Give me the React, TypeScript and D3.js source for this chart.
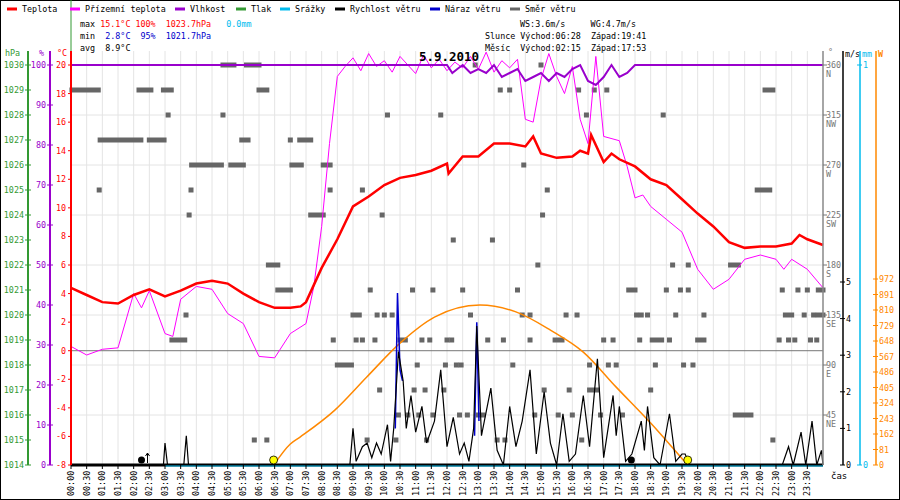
import React from "react";
import * as d3 from "d3";

const tempH = [0,0.5,1,1.5,2,2.5,3,3.5,4,4.5,5,5.5,6,6.5,7,7.33,7.5,8,8.5,9,9.5,10,10.5,11,11.5,12,12.05,12.5,13,13.5,14,14.5,14.75,15,15.5,16,16.25,16.5,16.6,17,17.25,17.5,18,18.5,19,19.5,20,20.5,21,21.5,22,22.5,23,23.25,23.5,24];
const tempV = [4.4,3.9,3.4,3.3,3.9,4.3,3.8,4.2,4.7,4.9,4.7,4.0,3.4,3.0,3.0,3.1,3.4,5.8,7.8,10.1,10.8,11.6,12.1,12.3,12.6,13.1,12.4,13.6,13.6,14.5,14.5,14.3,15.0,13.8,13.5,13.6,14.0,13.8,15.1,13.2,13.8,13.4,12.9,12.0,11.6,10.6,9.6,8.7,7.6,7.2,7.3,7.3,7.5,8.1,7.8,7.4];

const groundH = [0,0.5,1,1.5,2,2.25,2.5,3,3.25,3.5,4,4.5,5,5.5,6,6.5,7,7.5,7.75,8,8.25,8.5,8.75,9,9.25,9.5,9.75,10,10.25,10.5,10.75,11,11.25,11.5,11.75,12,12.25,12.5,12.75,13,13.25,13.5,13.75,14,14.25,14.5,14.75,15,15.25,15.5,15.75,16,16.25,16.5,16.75,17,17.5,17.75,18,18.25,18.5,19,19.5,20,20.5,21,21.5,22,22.5,22.75,23,23.5,24];
const groundV = [0.3,-0.3,0.1,0.2,4.0,3.0,4.2,1.2,1.0,3.6,4.5,4.3,2.6,1.9,-0.4,-0.5,1.2,1.9,4.5,8.7,14.5,19.2,19.9,20.5,19.6,20.8,19.9,20.3,19.5,20.6,20.0,19.4,20.7,19.8,20.4,19.6,20.2,19.8,20.6,19.7,20.9,19.5,20.3,19.8,20.4,16.2,16.0,19.0,20.8,19.2,18.0,19.9,16.2,14.5,20.6,15.0,14.7,12.9,10.7,10.9,10.1,9.2,8.3,5.7,4.3,5.0,6.4,6.7,6.4,5.7,6.4,5.7,4.4];

const humH = [0,12,12.17,12.33,12.5,12.75,13,13.25,13.5,13.75,14,14.25,14.5,14.75,15,15.25,15.5,15.75,16,16.25,16.5,16.75,17,17.25,17.5,17.75,18,24];
const humV = [100,100,98,99,100,98,99,98,100,97,98,99,96,97,98,96,98,97,99,100,96,95,97,100,97,98,100,100];

const windH = [0,2.95,3.0,3.08,3.6,3.68,3.75,8.9,9.0,9.1,9.3,9.45,9.6,9.75,9.9,10.1,10.2,10.3,10.45,10.6,10.7,10.85,11.0,11.2,11.35,11.6,11.8,12.0,12.2,12.4,12.55,12.7,12.85,12.95,13.1,13.4,13.6,13.8,14.0,14.2,14.4,14.65,14.85,15.1,15.3,15.5,15.7,15.9,16.1,16.35,16.55,16.8,17.0,17.3,17.4,17.5,17.7,17.9,18.2,18.3,18.4,18.6,18.8,19.1,19.3,19.5,19.6,19.75,22.7,22.9,23.05,23.3,23.45,23.65,23.8,23.95,24];
const windV = [0,0,0.6,0,0,0.8,0,0,1.0,0.1,0.5,0.6,0.2,0.6,0.3,1.1,0.1,1.0,3.1,2.3,1.0,1.9,0.9,1.6,0.6,1.2,2.6,0.5,1.3,0.3,0.6,0.1,1.0,3.8,0.8,2.1,0.4,0.0,1.6,0.5,1.2,2.6,0.3,2.0,0.6,0.0,1.4,0.1,0.3,1.9,0.5,2.9,0.2,1.9,0.8,1.6,0.1,0.3,1.2,0.4,1.6,0.2,0.0,1.4,0.1,0.3,0.3,0,0,0.5,0,0.9,0,1.2,0,0.4,0];

const gustH = [10.35,10.42,10.5,10.58, 12.88,12.95,13.02];
const gustV = [1.0,4.7,2.6,2.3, 0.8,3.9,1.2];
const gustSeg = [0,0,0,0,1,1,1];

const sunH = [6.47,7.0,7.31,8.42,9.44,10.5,11.6,13.05,14.2,15.3,16.35,17.4,18.5,19.54,19.68];
const sunW = [0,110,146,287,460,637,773,836,800,705,590,407,219,26,0];

const dirStart = [4.85,5.6,0.03,2.17,2.95,6.0,3.1,4.85,10.1,11.8,0.93,2.5,5.45,7.0,7.3,3.85,5.1,7.05,8.05,0.9,3.83,8.27,9.3,3.77,7.65,9.93,6.3,6.6,9.55,10.9,11.55,3.67,9.0,9.77,10.0,10.25,3.22,8.37,9.1,9.3,9.7,10.5,11.2,11.45,12.0,
13.7,14.0,16.2,16.7,17.1,22.15,12.9,15.0,16.45,18.9,14.45,15.2,21.9,15.05,12.2,13.45,14.9,19.2,19.7,21.05,12.5,14.25,17.8,19.0,19.45,19.7,22.7,23.2,23.5,23.85,12.75,14.4,14.65,15.8,16.15,18.05,18.2,18.4,19.3,20.2,22.8,23.4,23.7,23.85,12.15,13.3,13.8,14.65,15.45,17.0,17.3,18.15,18.55,19.1,20.0,22.6,22.9,23.1,23.6,23.8,
8.5,11.05,11.95,12.3,12.45,14.1,16.55,17.15,17.4,18.65,19.55,19.85,9.85,10.95,11.3,11.9,15.1,15.9,16.55,18.5,10.45,10.75,11.1,11.55,12.4,12.65,13.0,13.15,14.8,15.55,16.0,16.9,17.6,21.2,9.45,10.37,11.35,13.6,13.85,16.3,22.4,5.85,6.25];
const dirEnd = [5.2,6.0,0.87,2.55,3.2,6.25,3.1,4.85,10.1,11.8,2.23,2.97,5.65,7.0,7.65,4.8,5.5,7.35,8.27,0.9,3.83,8.27,9.3,3.77,8.05,9.93,6.6,7.0,9.55,10.9,11.55,3.67,9.2,9.77,10.0,10.25,3.63,8.37,9.1,9.3,9.7,10.67,11.2,11.45,12.0,
13.7,14.0,16.2,16.7,17.1,22.4,12.9,15.0,16.45,18.9,14.45,15.2,22.3,15.05,12.2,13.45,14.9,19.2,19.7,21.3,12.5,14.25,18.0,19.0,19.45,19.7,22.7,23.2,23.5,24.0,12.75,14.4,14.65,15.8,16.15,18.05,18.2,18.4,19.3,20.2,23.0,23.4,23.7,24.0,12.15,13.3,13.8,14.65,15.67,17.0,17.3,18.15,18.85,19.1,20.2,22.6,22.9,23.1,23.6,23.8,
8.95,11.05,11.95,12.3,12.45,14.1,16.55,17.15,17.4,18.65,19.55,19.85,9.85,10.95,11.3,11.9,15.1,15.9,16.8,18.5,10.45,10.75,11.1,11.55,12.4,12.65,13.0,13.15,14.8,15.55,16.0,16.9,17.6,21.7,9.45,10.37,11.35,13.6,13.85,16.3,22.4,5.85,6.25];
const dirDeg = [360,360,337.5,337.5,337.5,337.5,315,315,315,315,292.5,292.5,292.5,292.5,292.5,270,270,270,270,247.5,247.5,247.5,247.5,225,225,225,180,157.5,157.5,157.5,157.5,135,135,135,135,135,112.5,112.5,112.5,112.5,112.5,112.5,112.5,112.5,112.5,
337.5,337.5,337.5,337.5,337.5,337.5,360,360,315,315,270,247.5,247.5,225,202.5,202.5,180,180,180,180,157.5,157.5,157.5,157.5,157.5,157.5,157.5,157.5,157.5,157.5,135,135,135,135,135,135,135,135,135,135,135,135,135,135,112.5,112.5,112.5,112.5,112.5,112.5,112.5,112.5,112.5,112.5,112.5,112.5,112.5,112.5,112.5,112.5,
90,90,90,90,90,90,90,90,90,90,90,90,67.5,67.5,67.5,67.5,67.5,67.5,67.5,67.5,45,45,45,45,45,45,45,45,45,45,45,45,45,45,22.5,22.5,22.5,22.5,22.5,22.5,22.5,22.5,22.5];

const legendItems = [
  ["Teplota", "#ff0000"], ["Přízemní teplota", "#ff00ff"], ["Vlhkost", "#9900cc"], ["Tlak", "#339933"],
  ["Srážky", "#00bbee"], ["Rychlost větru", "#000000"], ["Náraz větru", "#0000cc"], ["Směr větru", "#666666"],
];
const legendX = [7, 70, 175, 236, 280, 335, 430, 510];
const dirLabels = ["", "NE", "E", "SE", "S", "SW", "W", "NW", "N"];
const wTicks = [0,81,162,243,324,405,486,567,648,729,810,891,972];

const L = 71, R = 823, T = 65, B = 465;
const font = "DejaVu Sans Mono, monospace";
const FS = 8.4;
const pre = { whiteSpace: "pre" as const };

export default function App() {
  const x = d3.scaleLinear().domain([0, 24]).range([L, R]);
  const yT = d3.scaleLinear().domain([-8, 20]).range([B, T]);
  const yP = d3.scaleLinear().domain([1014, 1030]).range([B, T]);
  const yH = d3.scaleLinear().domain([0, 100]).range([B, T]);
  const yD = d3.scaleLinear().domain([0, 360]).range([B, T]);
  const yWs = d3.scaleLinear().domain([0, 1]).range([B, B - 36.6]);
  const yW = d3.scaleLinear().domain([0, 972]).range([B, B - 186]);
  const yMm = d3.scaleLinear().domain([0, 1]).range([B, T]);

  const lineOf = (hs: number[], vs: number[], ys: (v: number) => number) =>
    d3.line<number>().x((_, i) => x(hs[i])).y((v) => ys(v))(vs) || "";

  const halfHours = d3.range(0, 48);
  const gustPaths = [0, 1].map((s) => {
    const idx = gustH.map((_, i) => i).filter((i) => gustSeg[i] === s);
    return d3.line<number>().x((i) => x(gustH[i])).y((i) => yWs(gustV[i]))(idx) || "";
  });
  const fmt = (h: number) => `${String(Math.floor(h / 2)).padStart(2, "0")}:${h % 2 ? "30" : "00"}`;

  return (
    <svg width={900} height={500} style={{ position: "absolute", left: 0, top: 0, background: "#fff" }} fontFamily={font} fontSize={FS}>
      <rect x={0.5} y={0.5} width={899} height={499} fill="#fff" stroke="#000" />
      {halfHours.map((h) => (
        <line key={"v" + h} x1={x(h / 2)} x2={x(h / 2)} y1={T - 14} y2={B} stroke="#e4e4e4" />
      ))}
      {d3.range(45, 360, 45).map((d) => (
        <line key={"h" + d} x1={L} x2={R} y1={yD(d)} y2={yD(d)} stroke="#e4e4e4" />
      ))}
      <line x1={L} x2={R} y1={yT(0)} y2={yT(0)} stroke="#777" />
      {dirDeg.map((d, i) => (
        <rect key={"d" + i} x={x(dirStart[i]) - 2.5} y={yD(d) - 2.5} width={x(dirEnd[i]) - x(dirStart[i]) + 5} height={5} fill="#666" />
      ))}
      <path d={d3.line<number>().x((_, i) => x(sunH[i])).y((v) => yW(v)).curve(d3.curveMonotoneX)(sunW) || ""} fill="none" stroke="#ff8800" strokeWidth={1.5} />
      {gustPaths.map((p, i) => <path key={"g" + i} d={p} fill="none" stroke="#0000cc" strokeWidth={1.5} />)}
      <path d={lineOf(windH, windV, yWs)} fill="none" stroke="#000" strokeWidth={1.2} />
      <path d={lineOf(groundH, groundV, yT)} fill="none" stroke="#ff00ff" strokeWidth={1} />
      <path d={lineOf(tempH, tempV, yT)} fill="none" stroke="#ff0000" strokeWidth={2.5} />
      <path d={lineOf(humH, humV, yH)} fill="none" stroke="#9900cc" strokeWidth={2} />
      <line x1={L} x2={R} y1={B} y2={B} stroke="#000" strokeWidth={3} />
      <line x1={x(3)} x2={R} y1={B + 1} y2={B + 1} stroke="#00bbee" strokeWidth={1} />
      <circle cx={x(6 + 28 / 60)} cy={B - 5} r={4} fill="#ffff00" stroke="#000" strokeWidth={0.8} />
      <circle cx={x(19 + 41 / 60)} cy={B - 5} r={4} fill="#ffff00" stroke="#000" strokeWidth={0.8} />
      <circle cx={x(2.25)} cy={B - 5} r={3.5} fill="#000" />
      <path d={`M${x(2.25) + 6},${B - 2} V${B - 12} M${x(2.25) + 4},${B - 9} L${x(2.25) + 6},${B - 12} L${x(2.25) + 8},${B - 9}`} stroke="#000" fill="none" />
      <circle cx={x(17 + 53 / 60)} cy={B - 5} r={3.5} fill="#000" />
      <line x1={28} x2={28} y1={T - 14} y2={B} stroke="#339933" strokeWidth={2} />
      {d3.range(1014, 1031).map((p) => (
        <g key={"p" + p} fill="#339933">
          <line x1={25} x2={31} y1={yP(p)} y2={yP(p)} stroke="#339933" />
          <text x={24} y={yP(p) + 3} textAnchor="end">{p}</text>
        </g>
      ))}
      <line x1={50} x2={50} y1={T - 14} y2={B} stroke="#9900cc" strokeWidth={2} />
      {d3.range(0, 101, 10).map((h) => (
        <g key={"hu" + h} fill="#9900cc">
          <line x1={47} x2={53} y1={yH(h)} y2={yH(h)} stroke="#9900cc" />
          <text x={46} y={yH(h) + 3} textAnchor="end">{h}</text>
        </g>
      ))}
      <line x1={L} x2={L} y1={0} y2={B} stroke="#339933" />
      <line x1={L} x2={L} y1={T - 14} y2={B} stroke="#ff0000" strokeWidth={2} />
      {d3.range(-8, 21, 2).map((t) => (
        <g key={"t" + t} fill="#ff0000">
          <line x1={L - 3} x2={L} y1={yT(t)} y2={yT(t)} stroke="#ff0000" />
          <text x={L - 5} y={yT(t) + 3} textAnchor="end">{t}</text>
        </g>
      ))}
      <text x={5} y={56} fill="#339933">hPa</text>
      <text x={39} y={56} fill="#9900cc">%</text>
      <text x={57} y={56} fill="#ff0000">°C</text>
      <line x1={R} x2={R} y1={T - 14} y2={B} stroke="#888" strokeWidth={1.5} />
      {d3.range(45, 361, 45).map((d, i) => (
        <g key={"da" + d} fill="#777">
          <line x1={R} x2={R + 4} y1={yD(d)} y2={yD(d)} stroke="#777" />
          <text x={R + 3} y={yD(d) + 3}>{d}</text>
          <text x={R + 3} y={yD(d) + 12}>{dirLabels[i + 1]}</text>
        </g>
      ))}
      <text x={R + 5} y={55} fill="#777">°</text>
      <line x1={843} x2={843} y1={T - 14} y2={B} stroke="#000" strokeWidth={1.5} />
      {d3.range(0, 6).map((v) => (
        <g key={"ws" + v}>
          <line x1={840} x2={845} y1={yWs(v)} y2={yWs(v)} stroke="#000" />
          <text x={846} y={yWs(v) + 3}>{v}</text>
        </g>
      ))}
      <text x={845} y={57}>m/s</text>
      <line x1={860} x2={860} y1={T - 14} y2={B} stroke="#00bbee" strokeWidth={1.5} />
      {[0, 1].map((v) => (
        <g key={"mm" + v} fill="#00bbee">
          <line x1={857} x2={862} y1={yMm(v)} y2={yMm(v)} stroke="#00bbee" />
          <text x={863} y={yMm(v) + 3}>{v}</text>
        </g>
      ))}
      <text x={862} y={57} fill="#00bbee">mm</text>
      <line x1={876} x2={876} y1={T - 14} y2={B} stroke="#ff8800" strokeWidth={1.5} />
      {wTicks.map((v) => (
        <g key={"w" + v} fill="#ff8800">
          <line x1={873} x2={878} y1={yW(v)} y2={yW(v)} stroke="#ff8800" />
          <text x={879} y={yW(v) + 3}>{v}</text>
        </g>
      ))}
      <text x={878} y={57} fill="#ff8800" fontWeight="bold">W</text>
      {halfHours.map((h) => (
        <g key={"ta" + h}>
          <line x1={x(h / 2)} x2={x(h / 2)} y1={B} y2={B + 4} stroke="#000" />
          <text transform={`translate(${x(h / 2) + 3},${496}) rotate(-90)`}>{fmt(h)}</text>
        </g>
      ))}
      <text x={831} y={479} fontSize={9}>čas</text>
      <text x={449} y={61} textAnchor="middle" fontSize={12.5} fontWeight="bold">5.9.2010</text>
      {legendItems.map(([n, c], i) => (
        <g key={"l" + i}>
          <line x1={legendX[i]} x2={legendX[i] + 10} y1={9} y2={9} stroke={c} strokeWidth={3} />
          <text x={legendX[i] + 15} y={12}>{n}</text>
        </g>
      ))}
      <g>
        <text x={80} y={27} style={pre}>{"max "}<tspan fill="#ff0000" style={pre}>{"15.1°C 100%  1023.7hPa"}</tspan>{"   "}<tspan fill="#00bbee">0.0mm</tspan></text>
        <text x={80} y={39} style={pre}>{"min  "}<tspan fill="#0000cc" style={pre}>{"2.8°C  95%  1021.7hPa"}</tspan></text>
        <text x={80} y={51} style={pre}>{"avg  8.9°C"}</text>
        <text x={520} y={27} style={pre}>{"WS:3.6m/s     WG:4.7m/s"}</text>
        <text x={485} y={39} style={pre}>{"Slunce Východ:06:28  Západ:19:41"}</text>
        <text x={485} y={51} style={pre}>{"Měsíc  Východ:02:15  Západ:17:53"}</text>
      </g>
    </svg>
  );
}
